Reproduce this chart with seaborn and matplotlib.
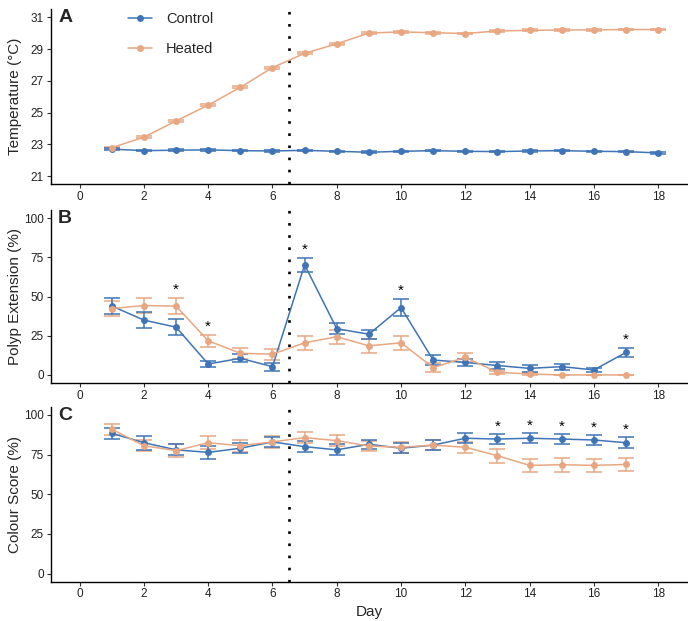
import numpy as np
import pandas as pd
import matplotlib
matplotlib.use("Agg")
import matplotlib.pyplot as plt
import seaborn as sns

sns.set_style("white")
plt.rcParams['font.family'] = ['Liberation Sans', 'DejaVu Sans']

groups = ["Control", "Heated"]
colors = {"Control": "#3F74B6", "Heated": "#E8A781"}

days_temp = list(range(1, 19))
temp_control = [22.70, 22.60, 22.63, 22.65, 22.60, 22.58, 22.62, 22.56, 22.50, 22.56,
                22.60, 22.56, 22.54, 22.58, 22.60, 22.56, 22.54, 22.46]
temp_control_se = [0.05] * 18
temp_heated = [22.79, 23.45, 24.47, 25.47, 26.59, 27.83, 28.73, 29.33, 30.01, 30.08,
               30.03, 29.98, 30.14, 30.18, 30.20, 30.21, 30.23, 30.23]
temp_heated_se = [0.06] * 18

days = list(range(1, 18))
polyp_control = [44.0, 35.0, 30.5, 7.0, 10.6, 5.3, 70.3, 29.5, 26.0, 43.0,
                 9.5, 8.0, 6.0, 4.2, 5.3, 3.2, 14.4]
polyp_control_se = [5.0, 5.0, 5.0, 2.2, 2.5, 2.5, 4.3, 3.5, 3.0, 5.5,
                    3.0, 2.5, 2.0, 2.0, 2.0, 1.5, 3.0]
polyp_heated = [42.4, 44.3, 43.9, 21.8, 13.8, 13.3, 20.5, 24.4, 18.6, 20.5,
                4.7, 11.2, 1.7, 0.6, 0.0, 0.0, 0.0]
polyp_heated_se = [4.5, 5.0, 5.3, 4.0, 3.5, 3.5, 4.4, 4.4, 4.4, 4.4,
                   3.0, 3.0, 1.0, 0.5, 0.0, 0.0, 0.0]
polyp_sig_days = [3, 4, 7, 10, 17]

colour_control = [88.4, 82.5, 78.0, 76.4, 79.0, 83.0, 80.0, 78.0, 81.5, 79.0,
                  81.0, 85.3, 84.8, 85.3, 84.8, 84.2, 82.5]
colour_control_se = [3.5, 4.4, 3.5, 4.2, 3.0, 3.4, 3.4, 3.5, 3.0, 3.0,
                     3.0, 3.0, 3.0, 3.0, 3.0, 3.0, 3.3]
colour_heated = [91.0, 80.6, 77.5, 82.5, 80.6, 83.0, 85.7, 83.8, 80.4, 79.6,
                 81.0, 79.6, 74.3, 68.2, 68.6, 68.2, 68.8]
colour_heated_se = [3.4, 3.5, 4.0, 4.0, 3.8, 3.8, 3.5, 3.4, 3.4, 3.4,
                    3.4, 3.5, 4.3, 4.3, 4.3, 4.2, 4.2]
colour_sig_days = [13, 14, 15, 16, 17]

x_ticks = list(range(0, 19, 2))
treatment_day = 6.5


def make_df(d, c, cse, h, hse):
    return pd.DataFrame({
        "Day": list(d) * 2,
        "Value": list(c) + list(h),
        "SE": list(cse) + list(hse),
        "Group": ["Control"] * len(d) + ["Heated"] * len(d),
    })


fig = plt.figure(figsize=(6.88, 6.21), dpi=100)
axA = fig.add_axes([0.0737, 0.7037, 0.925, 0.2812])
axB = fig.add_axes([0.0737, 0.3836, 0.925, 0.2775])
axC = fig.add_axes([0.0737, 0.0636, 0.925, 0.2810])

panels = [
    (axA, make_df(days_temp, temp_control, temp_control_se, temp_heated, temp_heated_se),
     "Temperature (°C)", (20.5, 31.5), [21, 23, 25, 27, 29, 31], "A", [], 0),
    (axB, make_df(days, polyp_control, polyp_control_se, polyp_heated, polyp_heated_se),
     "Polyp Extension (%)", (-5, 105), [0, 25, 50, 75, 100], "B", polyp_sig_days, 5.0),
    (axC, make_df(days, colour_control, colour_control_se, colour_heated, colour_heated_se),
     "Colour Score (%)", (-5, 105), [0, 25, 50, 75, 100], "C", colour_sig_days, 5.0),
]

for ax, df, ylabel, ylim, yticks, letter, sig_days, off in panels:
    for g in ["Heated", "Control"]:
        sub = df[df["Group"] == g]
        ax.errorbar(sub["Day"], sub["Value"], yerr=sub["SE"], fmt="none",
                    ecolor=colors[g], elinewidth=1.1, capsize=5.8, capthick=1.1, zorder=2)
    sns.lineplot(data=df, x="Day", y="Value", hue="Group", hue_order=groups,
                 palette=colors, marker="o", markersize=5, markeredgewidth=0,
                 linewidth=1.1, ax=ax, legend=(letter == "A"), zorder=3)
    ax.axvline(treatment_day, color="black", linestyle=(0, (1, 3.6)), linewidth=1.9, zorder=1)
    ax.set_xlim(-0.9, 18.9)
    ax.set_ylim(*ylim)
    ax.set_xticks(x_ticks)
    ax.set_yticks(yticks)
    ax.set_ylabel(ylabel, fontsize=11)
    ax.yaxis.set_label_coords(-0.045, 0.5)
    ax.set_xlabel("")
    ax.tick_params(axis="both", labelsize=8.5, length=3, width=0.8, color="#333333",
                   labelcolor="#222222", direction="out", bottom=True, left=True, pad=2)
    for s in ["top", "right"]:
        ax.spines[s].set_visible(False)
    for s in ["left", "bottom"]:
        ax.spines[s].set_color("black")
        ax.spines[s].set_linewidth(1.0)
    ax.text(0.0115, 1.0, letter, transform=ax.transAxes, fontsize=14,
            fontweight="bold", va="top", ha="left")
    for d in sig_days:
        top = df[(df["Day"] == d)].eval("Value + SE").max()
        ax.text(d, top + off, "*", ha="center", va="center", fontsize=11,
                color="black")

leg = axA.get_legend()
handles, labels = axA.get_legend_handles_labels()
leg.remove()
axA.legend(handles, labels, loc="upper left", bbox_to_anchor=(0.1734, 0.995),
           bbox_transform=fig.transFigure, frameon=False, fontsize=10.5,
           borderpad=0.1, handlelength=1.65, labelspacing=1.09, handletextpad=0.95)

axC.set_xlabel("Day", fontsize=11, labelpad=3)

fig.savefig("out.png", dpi=100)
